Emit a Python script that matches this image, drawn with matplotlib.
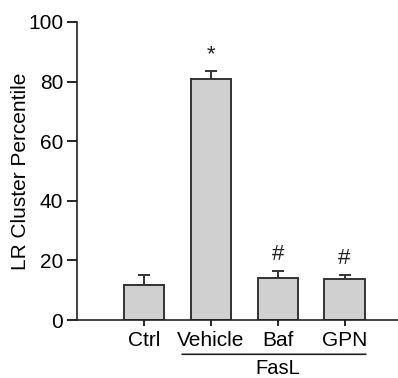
import matplotlib
matplotlib.use("Agg")
import matplotlib.pyplot as plt

# ---------- DATA ----------
categories = ["Ctrl", "Vehicle", "Baf", "GPN"]
means = [11.8, 81.0, 14.0, 13.6]
errors = [3.2, 2.4, 2.3, 1.6]
marks = ["", "*", "#", "#"]
group_label = "FasL"
ylabel = "LR Cluster Percentile"
yticks = [0, 20, 40, 60, 80, 100]

plt.rcParams["font.family"] = ["Liberation Sans", "DejaVu Sans"]

fig = plt.figure(figsize=(3.98, 3.78), dpi=100)
ax = fig.add_axes([0.1935, 0.1534, 0.8065, 0.7884])

x = list(range(1, len(categories) + 1))
ax.bar(x, means, width=0.6, color="#d0d0d0", edgecolor="#333333", linewidth=1.4, zorder=2)
ax.errorbar(x, means, yerr=[[0] * len(errors), errors], fmt="none",
            ecolor="#333333", elinewidth=1.4, capsize=4, capthick=1.4, zorder=1)

for xi, m, e, mk in zip(x, means, errors, marks):
    if mk:
        ax.text(xi, m + e + 2.0, mk, ha="center", va="bottom", fontsize=16,
                color="#222222")

ax.set_xlim(0.0, 4.8)
ax.set_ylim(0, 100)
ax.set_yticks(yticks)
ax.set_xticks(x)
ax.set_xticklabels(categories, fontsize=15)
ax.tick_params(axis="y", labelsize=15, length=7, width=1.2, direction="out", pad=3)
ax.tick_params(axis="x", length=4, width=1.2, direction="out", pad=4)
ax.set_ylabel(ylabel, fontsize=15)
ax.yaxis.set_label_coords(-0.145, 0.5)

for s in ["top", "right"]:
    ax.spines[s].set_visible(False)
for s in ["left", "bottom"]:
    ax.spines[s].set_linewidth(1.2)
    ax.spines[s].set_color("#222222")

# group line under FasL treatments
ax.annotate("", xy=(1.53, -0.115), xytext=(4.36, -0.115), xycoords=("data", "axes fraction"),
            arrowprops=dict(arrowstyle="-", color="#222222", lw=1.2))
ax.text(3.0, -0.132, group_label, transform=ax.get_xaxis_transform(),
        ha="center", va="top", fontsize=14.5)

fig.savefig("out.png", dpi=100)
